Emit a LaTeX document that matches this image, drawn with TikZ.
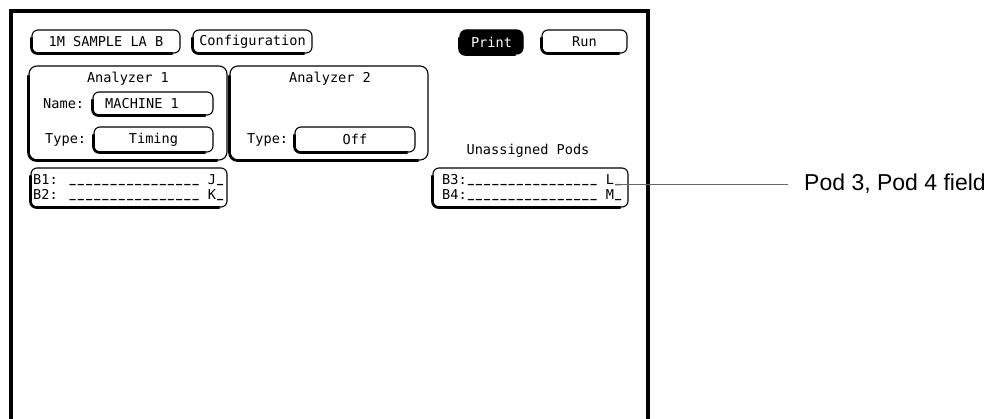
\documentclass[tikz,border=0pt]{standalone}
\usepackage{fontspec}
\newfontfamily\scr{DejaVu Sans Mono}
\newfontfamily\lab{Liberation Sans}
\newcommand\uscore{\makebox[0.602em][c]{\raisebox{2.2pt}{\scalebox{0.75}[1]{\bfseries\_}}}}
\newcommand\uscores{\uscore\uscore\uscore\uscore\uscore\uscore\uscore\uscore\uscore\uscore\uscore\uscore\uscore\uscore\uscore\uscore}
\begin{document}
\begin{tikzpicture}[x=1pt,y=-1pt,
  scrtext/.style={font=\scr\fontsize{13.6}{15}\selectfont, inner sep=0pt},
  box/.style={draw, line width=1.1pt, rounded corners=6pt, inner sep=0pt, font=\scr\fontsize{13.6}{15}\selectfont},
  bigbox/.style={box, rounded corners=8pt},
  shade/.style={line width=2.6pt, rounded corners=6pt, xshift=-0.9pt, yshift=-0.9pt},
  leader/.style={draw=black!60, line width=0.9pt}
]
\useasboundingbox (0,0) rectangle (987,419);
\fill[white] (0,0) rectangle (987,419);
% screen frame
\draw[line width=3.2pt] (11,419) -- (11,11) -- (648,11) -- (648,419);
% buttons
\node[box, minimum width=148pt, minimum height=23pt] (sample) at (106,41.5) {1M SAMPLE LA B};
\node[box, minimum width=119pt, minimum height=23pt] (config) at (252.5,41.5) {Configuration};
\node[box, fill=black, text=white, minimum width=63pt, minimum height=24pt] (print) at (491.5,42) {Print};
\node[box, minimum width=85pt, minimum height=23pt] (run) at (584.5,41.5) {Run};
% analyzer boxes
\node[bigbox, minimum width=198pt, minimum height=94pt] (an1) at (128,113) {};
\node[bigbox, minimum width=198pt, minimum height=94pt] (an2) at (329,113) {};
\node[scrtext] (t1) at (128,79) {Analyzer 1};
\node[scrtext] (t2) at (330,79) {Analyzer 2};
\node[scrtext, anchor=west] (namel) at (43,104) {Name:};
\node[box, minimum width=120pt, minimum height=23pt] (name) at (153,103.5) {};
\node[scrtext, anchor=west] (mach) at (105,104) {MACHINE 1};
\node[scrtext, anchor=west] (type1l) at (45,140) {Type:};
\node[box, minimum width=119pt, minimum height=25pt] (type1) at (153.5,139.5) {Timing};
\node[scrtext, anchor=west] (type2l) at (247,140) {Type:};
\node[box, minimum width=120pt, minimum height=25pt] (type2) at (355,139.5) {Off};
% pods
\node[scrtext] (unas) at (528,151) {Unassigned Pods};
\node[box, minimum width=196pt, minimum height=39pt] (pod12) at (129,187.5) {};
\node[box, minimum width=195pt, minimum height=39pt] (pod34) at (530.5,187.5) {};
\node[scrtext, anchor=west] (b1) at (33,180) {B1: \uscores{} J\uscore};
\node[scrtext, anchor=west] (b2) at (33,195) {B2: \uscores{} K\uscore};
\node[scrtext, anchor=west] (b3) at (442,180) {B3:\uscores{} L\uscore};
\node[scrtext, anchor=west] (b4) at (442,195) {B4:\uscores{} M\uscore};
% left/bottom shading
\foreach \n/\r in {sample/6,config/6,print/6,run/6,name/6,type1/6,type2/6,pod12/6,pod34/6,an1/8,an2/8}{
  \draw[shade, rounded corners=\r pt] ([yshift=-\r pt-2pt]\n.north west) -- (\n.south west) -- ([xshift=-\r pt-2pt]\n.south east);
}
% callout
\coordinate (pl) at (615,184);
\node[anchor=west, inner xsep=16pt, inner ysep=0pt, font=\lab\fontsize{23}{26}\selectfont] (podlab) at (788,184) {Pod 3, Pod 4 field};
\draw[leader] (pl) -- (podlab.west);
\end{tikzpicture}
\end{document}
